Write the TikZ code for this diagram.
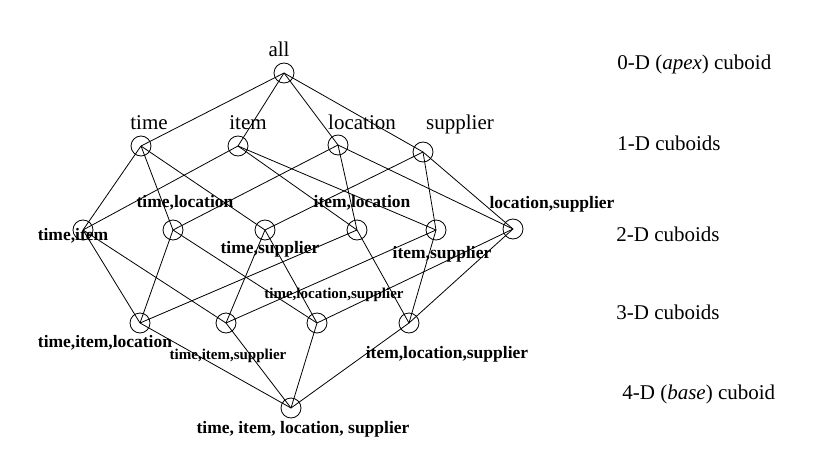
\documentclass[tikz,border=0pt]{standalone}
\usepackage{fontspec}
\setmainfont{Liberation Serif}
\usetikzlibrary{positioning}

\begin{document}
\begin{tikzpicture}[x=1pt, y=-1pt, line width=0.8pt,
  cub/.style={draw, circle, minimum size=20pt, inner sep=0pt},
  reglbl/.style={anchor=base, inner sep=0pt, font=\fontsize{21}{24}\selectfont},
  dimlbl/.style={anchor=base west, inner sep=0pt, font=\fontsize{21}{24}\selectfont},
  boldlbl/.style={anchor=base, inner sep=0pt, font=\fontsize{17.5}{20}\selectfont\bfseries},
  smalllbl/.style={anchor=base, inner sep=0pt, font=\fontsize{15}{18}\selectfont\bfseries}]
  \useasboundingbox (0,0) rectangle (840,468);

  % Place cuboids
  \node[cub] (all) at (284,73) {};
  \node[cub] (t) at (141,146) {};
  \node[cub] (i) at (238,146) {};
  \node[cub] (l) at (338,145) {};
  \node[cub] (s) at (423,152) {};
  \node[cub] (ti) at (83,230) {};
  \node[cub] (tl) at (173,230) {};
  \node[cub] (ts) at (265,230) {};
  \node[cub] (il) at (357,230) {};
  \node[cub] (is) at (436,230) {};
  \node[cub] (ls) at (513,229) {};
  \node[cub] (til) at (140,323) {};
  \node[cub] (tis) at (226,323) {};
  \node[cub] (tls) at (317,323) {};
  \node[cub] (ils) at (409,323) {};
  \node[cub] (tils) at (291,408) {};

  % Lattice edges
  \foreach \a/\b in {all/t, all/i, all/l, all/s,
      t/ti, t/tl, t/ts, i/ti, i/il, i/is, l/tl, l/il, l/ls, s/ts, s/is, s/ls,
      ti/til, ti/tis, tl/til, tl/tls, ts/tis, ts/tls,
      il/til, il/ils, is/tis, is/ils, ls/tls, ls/ils,
      til/tils, tis/tils, tls/tils, ils/tils}
    \draw (\a.center) -- (\b.center);

  % Cuboid names
  \node[reglbl] (all-lbl) at (279,57) {all};
  \node[reglbl] (t-lbl) at (149,130) {time};
  \node[reglbl] (i-lbl) at (248,130) {item};
  \node[reglbl] (l-lbl) at (362,130) {location};
  \node[reglbl] (s-lbl) at (460,130) {supplier};
  \node[boldlbl] (ti-lbl) at (73,240) {time,item};
  \node[boldlbl] (tl-lbl) at (185,207) {time,location};
  \node[boldlbl] (ts-lbl) at (270,253) {time,supplier};
  \node[boldlbl] (il-lbl) at (362,207) {item,location};
  \node[boldlbl] (is-lbl) at (442,258) {item,supplier};
  \node[boldlbl] (ls-lbl) at (552,208) {location,supplier};
  \node[boldlbl] (til-lbl) at (105,347) {time,item,location};
  \node[smalllbl] (tis-lbl) at (228,359) {time,item,supplier};
  \node[smalllbl] (tls-lbl) at (334,298) {time,location,supplier};
  \node[boldlbl] (ils-lbl) at (447,358) {item,location,supplier};
  \node[boldlbl] (tils-lbl) at (303,433) {time, item, location, supplier};

  % Levels
  \node[dimlbl] (d0) at (617,70) {0-D (\textit{apex}) cuboid};
  \node[dimlbl] (d1) at (617,150) {1-D cuboids};
  \node[dimlbl] (d2) at (616,241) {2-D cuboids};
  \node[dimlbl] (d3) at (616,319) {3-D cuboids};
  \node[dimlbl] (d4) at (622,399) {4-D (\textit{base}) cuboid};
\end{tikzpicture}
\end{document}
